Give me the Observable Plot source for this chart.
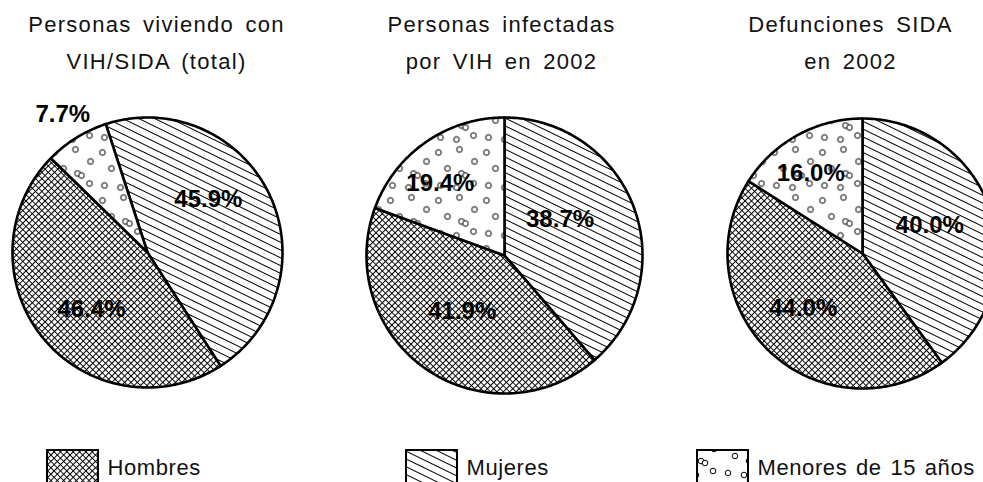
<!DOCTYPE html>
<html><head><meta charset="utf-8">
<script src="https://cdn.jsdelivr.net/npm/d3@7"></script>
<script src="https://cdn.jsdelivr.net/npm/@observablehq/plot@0.6"></script>
<style>
html,body{margin:0;padding:0;background:#fff;overflow:hidden;}
</style></head><body><div id="chart"></div>
<script>
// ---- data ----
const pieTitles = ["Personas viviendo con\nVIH/SIDA (total)", "Personas infectadas\npor VIH en 2002", "Defunciones SIDA\nen 2002"];
const sliceOrder = ["Mujeres", "Hombres", "Menores de 15 años"];
const legendOrder = ["Hombres", "Mujeres", "Menores de 15 años"];
const mujeres = [45.9, 38.7, 40.0];
const hombres = [46.4, 41.9, 44.0];
const menores = [7.7, 19.4, 16.0];
const startAngles = [-18, 0, 0]; // degrees clockwise from 12 o'clock

// ---- layout ----
const W = 983, H = 482;
const pieCenters = [[147, 252], [504, 255], [862, 253]];
const pieRadii = [135, 138, 135];
const titleCenters = [156, 501, 850];
const titleBaselines = [31, 68];
const labelPlacement = { // [angle (deg clockwise from top), fraction of radius]
  "Mujeres": [[48.7, 0.6], [57, 0.48], [67.6, 0.54]],
  "Hombres": [[224.7, 0.59], [216.9, 0.51], [227, 0.6]],
  "Menores de 15 años": [[328.5, 1.2], [318.4, 0.7], [327.3, 0.71]]
};
const legendX = [47, 406, 697];
const swatchW = 51, swatchTop = 450, swatchH = 40, legendBaseline = 474, legendGap = 9;
const patternOf = {"Mujeres": "url(#pMuj)", "Hombres": "url(#pHom)", "Menores de 15 años": "url(#pMen)"};
const FONT = "'Liberation Sans', Arial, sans-serif";

const valuesOf = {"Mujeres": mujeres, "Hombres": hombres, "Menores de 15 años": menores};

// slice outlines
const slicePts = [];
const labels = [];
pieTitles.forEach((t, i) => {
  const [cx, cy] = pieCenters[i], r = pieRadii[i];
  let a = startAngles[i];
  sliceOrder.forEach(cat => {
    const v = valuesOf[cat][i];
    const a0 = a, a1 = a + v * 3.6;
    const key = i + "-" + cat;
    slicePts.push({key, cat, x: cx, y: cy});
    const n = Math.max(2, Math.ceil((a1 - a0) / 1));
    for (let k = 0; k <= n; k++) {
      const ang = (a0 + (a1 - a0) * k / n) * Math.PI / 180;
      slicePts.push({key, cat, x: cx + r * Math.sin(ang), y: cy - r * Math.cos(ang)});
    }
    a = a1;
    const [la, lf] = labelPlacement[cat][i];
    const lr = la * Math.PI / 180;
    labels.push({x: cx + r * lf * Math.sin(lr), y: cy - r * lf * Math.cos(lr), text: v.toFixed(1) + "%"});
  });
});

const titleLines = [];
pieTitles.forEach((t, i) => t.split("\n").forEach((line, j) => titleLines.push({x: titleCenters[i], y: titleBaselines[j], text: line})));

const legendItems = legendOrder.map((cat, i) => ({cat, x1: legendX[i], x2: legendX[i] + swatchW, y1: swatchTop, y2: swatchTop + swatchH, tx: legendX[i] + swatchW + legendGap}));

const svg = Plot.plot({
  width: W, height: H, margin: 0,
  x: {domain: [0, W], range: [0, W], axis: null},
  y: {domain: [0, H], range: [0, H], axis: null},
  color: {type: "identity"},
  style: {fontFamily: FONT, background: "white"},
  marks: [
    Plot.line(slicePts, {x: "x", y: "y", z: "key", fill: d => patternOf[d.cat], stroke: "black", strokeWidth: 2.6, curve: "linear-closed", strokeLinejoin: "round"}),
    Plot.text(labels, {x: "x", y: "y", text: "text", fontSize: 24, fontWeight: "bold", fill: "black", fontFamily: FONT}),
    Plot.text(titleLines, {x: "x", y: "y", text: "text", fontSize: 22, lineAnchor: "bottom", textAnchor: "middle", fill: "#111", fontFamily: FONT}),
    Plot.rect(legendItems, {x1: "x1", x2: "x2", y1: "y1", y2: "y2", fill: d => patternOf[d.cat], stroke: "black", strokeWidth: 2}),
    Plot.text(legendItems, {x: "tx", y: legendBaseline, text: "cat", fontSize: 22, lineAnchor: "bottom", textAnchor: "start", fill: "#111", fontFamily: FONT})
  ]
});

// patterns
const defs = d3.select(svg).insert("defs", ":first-child");
const pm = defs.append("pattern").attr("id", "pMuj").attr("patternUnits", "userSpaceOnUse").attr("width", 10).attr("height", 7).attr("patternTransform", "rotate(26)");
pm.append("rect").attr("width", 10).attr("height", 7).attr("fill", "white");
pm.append("line").attr("x1", 0).attr("x2", 10).attr("y1", 3.5).attr("y2", 3.5).attr("stroke", "black").attr("stroke-width", 1);
const ph = defs.append("pattern").attr("id", "pHom").attr("patternUnits", "userSpaceOnUse").attr("width", 4.5).attr("height", 4.5).attr("patternTransform", "rotate(45)");
ph.append("rect").attr("width", 4.5).attr("height", 4.5).attr("fill", "white");
ph.append("path").attr("d", "M0,2.25H4.5M2.25,0V4.5").attr("stroke", "black").attr("stroke-width", 1.05);
const pd = defs.append("pattern").attr("id", "pMen").attr("patternUnits", "userSpaceOnUse").attr("width", 48).attr("height", 48);
pd.append("rect").attr("width", 48).attr("height", 48).attr("fill", "white");
[[6,8],[27,5],[42,17],[15,24],[29,29],[33,31],[8,41],[24,43],[41,39]].forEach(([cx, cy]) =>
  pd.append("circle").attr("cx", cx).attr("cy", cy).attr("r", 2.8).attr("fill", "white").attr("stroke", "black").attr("stroke-width", 1));

// text spacing (titles and legend are set in a spaced-out face in the reference)
const titleSet = new Set(titleLines.map(d => d.text));
const legendSet = new Set(legendOrder);
d3.select(svg).selectAll("text").each(function () {
  const s = this.textContent;
  if (titleSet.has(s)) { this.style.letterSpacing = "1.3px"; this.style.wordSpacing = "4px"; }
  else if (legendSet.has(s)) { this.style.letterSpacing = "0.6px"; this.style.wordSpacing = "2px"; }
});

document.getElementById("chart").appendChild(svg);
</script></body></html>
